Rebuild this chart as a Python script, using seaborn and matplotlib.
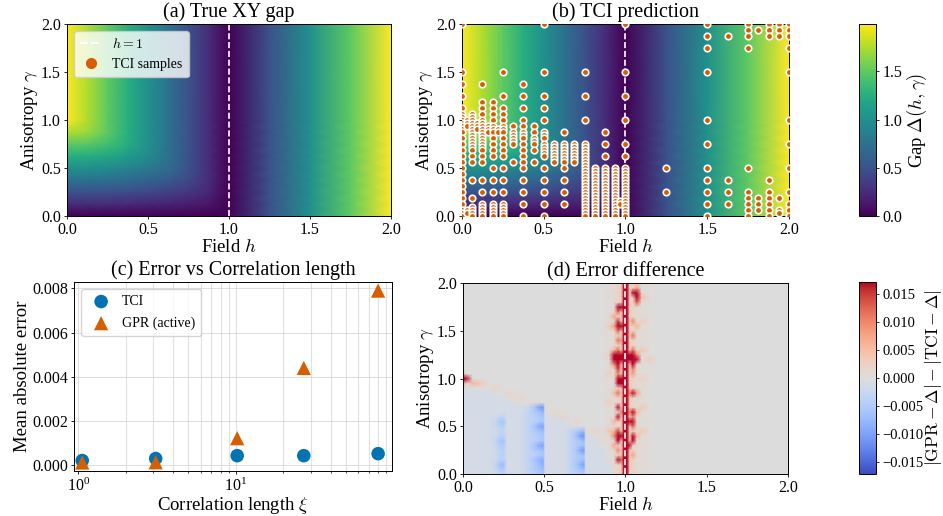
import numpy as np
import matplotlib
matplotlib.use("Agg")
import matplotlib.pyplot as plt
from matplotlib.lines import Line2D
import seaborn as sns

# ---------------- data ----------------
# gap field Delta(h, gamma) on a coarse node grid (rendered with gouraud shading)
gap_h = [0.0, 0.125, 0.25, 0.375, 0.5, 0.625, 0.75, 0.875, 1.0, 1.25, 1.5, 1.75, 2.0]
gap_g = [0.0, 0.125, 0.25, 0.375, 0.5, 0.625, 0.75, 0.875, 1.0, 2.0]
gap_right = [0.5, 1.0, 1.5, 2.0]
gap_rows = [
    [0.0, 0.0, 0.0, 0.0, 0.0, 0.0, 0.0, 0.0, 0.0],
    [0.25, 0.248, 0.242, 0.231, 0.216, 0.194, 0.164, 0.118, 0.0],
    [0.5, 0.496, 0.483, 0.461, 0.428, 0.382, 0.316, 0.214, 0.0],
    [0.75, 0.743, 0.722, 0.686, 0.632, 0.554, 0.441, 0.25, 0.0],
    [1.0, 0.99, 0.957, 0.901, 0.816, 0.692, 0.5, 0.25, 0.0],
    [1.25, 1.234, 1.184, 1.096, 0.96, 0.75, 0.5, 0.25, 0.0],
    [1.5, 1.473, 1.389, 1.236, 1.0, 0.75, 0.5, 0.25, 0.0],
    [1.75, 1.691, 1.5, 1.25, 1.0, 0.75, 0.5, 0.25, 0.0],
    [2.0, 1.75, 1.5, 1.25, 1.0, 0.75, 0.5, 0.25, 0.0],
    [2.0, 1.75, 1.5, 1.25, 1.0, 0.75, 0.5, 0.25, 0.0],
]

# TCI sample locations: one gamma list per h column
tci_cols_h = [0.0, 0.03125, 0.0625, 0.09375, 0.125, 0.15625, 0.1875, 0.21875, 0.25,
              0.3125, 0.375, 0.4375, 0.5, 0.5625, 0.625, 0.6875, 0.75, 0.8125, 0.875,
              0.9375, 0.96875, 1.0, 1.25, 1.5, 1.625, 1.75, 1.8125, 1.875, 1.9375, 2.0]
tci_cols_g = [
    [2.0, 1.5, 1.375, 1.25, 1.125, 1.0625, 1.03, 1.0, 0.97, 0.94, 0.906, 0.875, 0.8125, 0.75,
     0.6875, 0.625, 0.5625, 0.5, 0.4375, 0.375, 0.3125, 0.25, 0.1875, 0.125, 0.0625, 0.03, 0.0],
    [1.0, 0.97, 0.94, 0.06, 0.03],
    [1.0625, 1.03, 1.0, 0.97, 0.94, 0.91, 0.875, 0.84, 0.8125, 0.78, 0.75, 0.72, 0.6875, 0.625,
     0.5625, 0.375, 0.1875, 0.094, 0.0625, 0.03, 0.0],
    [0.97, 0.94, 0.91],
    [1.375, 1.1875, 1.125, 1.0625, 1.0, 0.97, 0.94, 0.91, 0.875, 0.84, 0.8125, 0.78, 0.75, 0.72,
     0.6875, 0.625, 0.5625, 0.375, 0.25, 0.125, 0.094, 0.0625, 0.03, 0.0],
    [0.94, 0.91, 0.875],
    [1.1875, 1.125, 1.0625, 1.0, 0.94, 0.91, 0.875, 0.8125, 0.75, 0.6875, 0.625, 0.5, 0.375,
     0.25, 0.125, 0.094, 0.0625, 0.03, 0.0],
    [0.91, 0.875],
    [1.5, 1.25, 1.125, 1.0625, 1.0, 0.9375, 0.91, 0.875, 0.8125, 0.75, 0.6875, 0.625, 0.5,
     0.375, 0.25, 0.125, 0.094, 0.0625, 0.03, 0.0],
    [0.9375, 0.875, 0.84, 0.8125, 0.78, 0.75, 0.5625],
    [1.375, 1.25, 1.125, 1.0, 0.9375, 0.875, 0.84, 0.8125, 0.75, 0.6875, 0.625, 0.5625, 0.5,
     0.375, 0.25, 0.125, 0.0],
    [0.9375, 0.875, 0.8125, 0.78, 0.75, 0.6875, 0.5625],
    [2.0, 1.5, 1.25, 1.125, 1.0, 0.875, 0.84, 0.8125, 0.75, 0.72, 0.6875, 0.656, 0.625, 0.5,
     0.375, 0.25, 0.125, 0.0],
    [0.75, 0.72, 0.6875, 0.656, 0.625, 0.594, 0.5625],
    [0.875, 0.75, 0.72, 0.6875, 0.656, 0.625, 0.594, 0.5625, 0.5, 0.375, 0.25, 0.125],
    [0.75, 0.72, 0.6875, 0.656, 0.625, 0.594, 0.5625],
    [1.5, 1.25, 1.0, 0.75, 0.72, 0.6875, 0.656, 0.625, 0.594, 0.5625, 0.53, 0.5, 0.47, 0.4375,
     0.406, 0.375, 0.344, 0.3125, 0.28, 0.25, 0.22, 0.1875, 0.156, 0.125, 0.094, 0.0625, 0.03, 0.0],
    [0.5, 0.47, 0.4375, 0.406, 0.375, 0.344, 0.3125, 0.28, 0.25, 0.22, 0.1875, 0.156, 0.125,
     0.094, 0.0625, 0.03, 0.0],
    [0.875, 0.75, 0.625, 0.5, 0.47, 0.4375, 0.406, 0.375, 0.344, 0.3125, 0.28, 0.25, 0.22,
     0.1875, 0.156, 0.125, 0.094, 0.0625, 0.03, 0.0],
    [0.5, 0.47, 0.4375, 0.406, 0.375, 0.344, 0.3125, 0.28, 0.25, 0.22, 0.1875, 0.156, 0.125,
     0.094, 0.0625, 0.03, 0.0],
    [0.156, 0.125],
    [2.0, 1.5, 1.25, 1.0, 0.75, 0.625, 0.5, 0.47, 0.4375, 0.406, 0.375, 0.344, 0.3125, 0.28,
     0.25, 0.22, 0.1875, 0.156, 0.125, 0.094, 0.0625, 0.03, 0.0],
    [0.5, 0.25],
    [2.0, 1.875, 1.75, 1.5, 1.0, 0.75, 0.5, 0.375, 0.25, 0.125, 0.0],
    [1.875, 0.375, 0.25, 0.125],
    [2.0, 1.9375, 1.875, 1.75, 0.5, 0.25, 0.1875, 0.125, 0.0625, 0.0],
    [1.9375, 0.1875, 0.125, 0.0625],
    [2.0, 1.9375, 1.875, 0.375, 0.25, 0.1875, 0.125, 0.0625, 0.0],
    [2.0, 1.9375, 1.875, 0.1875, 0.0625, 0.03],
    [2.0, 1.9375, 1.875, 1.75, 1.5, 1.0, 0.75, 0.5, 0.25, 0.125, 0.0625, 0.0],
]

# panel (c): error vs correlation length
xi = [1.06, 3.1, 10.2, 27.0, 80.0]
mae_tci = [0.00021, 0.00030, 0.00043, 0.00043, 0.00052]
mae_gpr = [0.00012, 0.00013, 0.00122, 0.00440, 0.00790]

# panel (d): error difference |GPR-D| - |TCI-D| on a non-uniform node grid
diff_h = [0.0, 0.02, 0.06, 0.12, 0.16, 0.2, 0.235, 0.25, 0.27, 0.35, 0.4, 0.44, 0.47, 0.495,
          0.505, 0.55, 0.62, 0.66, 0.7, 0.73, 0.745, 0.755, 0.8, 0.86, 0.9, 0.93, 0.955,
          0.975, 0.99, 1.0, 1.01, 1.025, 1.045, 1.07, 1.1, 1.15, 1.2, 2.0]
# faint pink halo around the h = 1 ridge
halo_h = [0.9, 0.93, 0.955, 0.975, 1.025, 1.045, 1.07, 1.1, 1.15]
halo_v = [0.0006, 0.001, 0.002, 0.003, 0.003, 0.002, 0.001, 0.0006, 0.0003]
# top of the faint blue region for each h node (gamma)
blue_top = [0.92, 0.92, 0.9, 0.88, 0.87, 0.85, 0.83, 0.82, 0.8, 0.75, 0.73, 0.72, 0.72, 0.72,
            0.65, 0.62, 0.58, 0.55, 0.5, 0.48, 0.48, 0.45, 0.4, 0.3, 0.15, 0.0, 0.0,
            0.0, 0.0, 0.0, 0.0, 0.0, 0.0, 0.0, 0.0, 0.0, 0.0, 0.0]
blue_faint = -0.0012
# stronger blue strips, values x1e-3 for gamma = 0.00, 0.05, ..., 0.70
strip_h = [0.2, 0.235, 0.25, 0.4, 0.44, 0.47, 0.495, 0.66, 0.7, 0.73, 0.745]
strip_vals = [
    [-2, -2.5, -3, -2, -2, -2, -2.5, -3, -2, -2, -2.5, -3, -1.5, -1, -1],
    [-4, -5, -7, -4, -4, -4, -5, -6, -4, -3, -4, -6, -3, -1, -1],
    [-4, -5, -7, -4, -4, -4, -5, -6, -4, -3, -4, -6, -3, -1, -1],
    [-3, -3, -3, -3, -3, -3, -3, -3, -3, -3, -3, -3, -3, -3, -2],
    [-4, -5, -5, -6, -4, -5, -6, -4, -4, -5, -6, -4, -4, -5, -6],
    [-5, -6, -7, -8, -5, -6, -9, -5, -5, -6, -9, -5, -5, -6, -10],
    [-6, -7, -9, -9, -6, -7, -10, -6, -6, -7, -10, -6, -6, -8, -11],
    [-3, -3, -3, -3, -3, -3, -3, -3, -3, -3, -1, 0, 0, 0, 0],
    [-4, -5, -6, -5, -5, -6, -5, -5, -7, -5, 0, 0, 0, 0, 0],
    [-5, -6, -9, -6, -6, -10, -6, -6, -11, -7, 0, 0, 0, 0, 0],
    [-5, -7, -10, -6, -6, -11, -6, -7, -11, -7, 0, 0, 0, 0, 0],
]
# red blobs (h, gamma, value)
red_h = [0.955, 0.975, 0.955, 0.955, 0.975, 0.955, 0.93, 0.955, 0.975,
         0.93, 0.955, 0.955, 0.955, 0.975, 0.975, 0.93,
         0.955, 0.975, 0.955, 0.975, 0.955, 0.955, 0.955, 0.975,
         0.955, 0.975, 0.955, 0.93, 0.955, 0.955, 0.975,
         0.93, 0.93, 0.93, 0.93, 0.93, 0.9, 0.9, 0.9, 0.9, 0.9,
         1.045, 1.07, 1.07, 1.07, 1.045, 1.045, 1.025, 1.045, 1.045, 1.025, 1.07, 1.045,
         1.045, 1.045, 1.07, 1.045, 1.045, 1.025, 1.045, 1.045, 1.045, 1.025, 1.025, 1.025,
         1.1, 1.1, 1.1, 1.1, 1.07, 1.15, 1.07, 1.07, 1.1,
         0.955, 0.955, 1.045, 1.045, 0.93, 1.07, 0.955, 0.93, 0.955, 0.955, 1.045, 1.045,
         1.07, 1.1,
         0.0, 0.02, 0.0, 0.0, 0.06, 0.12, 0.2, 0.27, 0.35, 0.44, 0.55, 0.62, 0.7, 0.8, 0.86]
red_g = [1.75, 1.75, 1.7, 1.55, 1.55, 1.6, 1.55, 1.4, 1.4,
         1.2, 1.2, 1.25, 1.15, 1.2, 1.25, 1.25,
         1.0, 0.95, 0.95, 1.0, 0.85, 0.7, 0.6, 0.65,
         0.4, 0.4, 0.35, 0.4, 0.15, 0.25, 0.15,
         1.65, 1.3, 0.55, 0.3, 0.85, 1.05, 0.75, 0.45, 1.55, 1.25,
         1.9, 1.85, 1.9, 1.8, 1.6, 1.45, 1.2, 1.2, 1.25, 1.25, 1.2, 1.15,
         1.05, 0.85, 0.85, 0.65, 0.55, 0.55, 0.4, 0.35, 0.2, 0.3, 0.85, 0.65,
         1.3, 0.7, 1.0, 0.45, 1.55, 1.2, 0.65, 0.4, 1.6,
         1.1, 1.3, 1.3, 1.1, 1.15, 1.25, 0.45, 0.45, 1.5, 1.05, 0.5, 0.6,
         1.95, 1.85,
         1.0, 1.0, 0.95, 1.05, 0.95, 0.95, 0.9, 0.85, 0.8, 0.75, 0.65, 0.6, 0.55, 0.45, 0.35]
red_v = [0.028, 0.020, 0.012, 0.034, 0.030, 0.016, 0.008, 0.012, 0.008,
         0.034, 0.042, 0.042, 0.026, 0.042, 0.042, 0.020,
         0.034, 0.030, 0.020, 0.020, 0.012, 0.020, 0.019, 0.010,
         0.042, 0.036, 0.027, 0.010, 0.022, 0.010, 0.013,
         0.007, 0.006, 0.006, 0.007, 0.005, 0.003, 0.003, 0.004, 0.003, 0.003,
         0.017, 0.020, 0.017, 0.013, 0.010, 0.012, 0.042, 0.042, 0.037, 0.034, 0.017, 0.020,
         0.008, 0.024, 0.008, 0.019, 0.025, 0.020, 0.030, 0.020, 0.008, 0.017, 0.010, 0.010,
         0.004, 0.004, 0.003, 0.004, 0.006, 0.003, 0.006, 0.006, 0.003,
         0.015, 0.012, 0.012, 0.010, 0.010, 0.010, 0.015, 0.006, 0.012, 0.010, 0.012, 0.010,
         0.008, 0.005,
         0.030, 0.018, 0.009, 0.007, 0.006, 0.003, 0.002, 0.002, 0.0015, 0.0015, 0.0015, 0.002,
         0.002, 0.002, 0.0015]
ridge_h = [0.99, 1.0, 1.01]
ridge_value = 0.03

# ---------------- build tables ----------------
gap_table = np.array([row + gap_right for row in gap_rows])

sample_h = np.concatenate([[h] * len(g) for h, g in zip(tci_cols_h, tci_cols_g)])
sample_g = np.concatenate(tci_cols_g)

diff_g = np.linspace(0, 2, 41)
diff = np.zeros((len(diff_g), len(diff_h)))
for h, v in zip(halo_h, halo_v):
    diff[:, diff_h.index(h)] = v
for j, top in enumerate(blue_top):
    diff[diff_g < top, j] = blue_faint
for h, vals in zip(strip_h, strip_vals):
    j = diff_h.index(h)
    diff[:len(vals), j] = np.array(vals) * 1e-3
for h, g, v in zip(red_h, red_g, red_v):
    diff[int(round(g / 0.05)), diff_h.index(h)] = v
for h in ridge_h:
    diff[:, diff_h.index(h)] = ridge_value

# ---------------- style ----------------
sns.set_theme(style="ticks")
plt.rcParams.update({
    "font.family": ["Liberation Serif", "DejaVu Serif"],
    "mathtext.fontset": "cm",
    "axes.edgecolor": "black",
    "axes.linewidth": 0.7,
    "axes.labelcolor": "black",
    "text.color": "black",
    "xtick.color": "black",
    "ytick.color": "black",
    "xtick.major.size": 2.5,
    "ytick.major.size": 2.5,
    "xtick.minor.size": 1.5,
    "ytick.minor.size": 1.5,
    "xtick.major.width": 0.6,
    "ytick.major.width": 0.6,
    "xtick.minor.width": 0.5,
    "ytick.minor.width": 0.5,
    "xtick.major.pad": 2.0,
    "ytick.major.pad": 2.0,
    "xtick.minor.pad": 2.0,
    "axes.labelpad": 0.5,
    "axes.titlepad": 5.0,
})

orange = "#d55e00"
blue = "#0173b2"
title_fs = 14.5
label_fs = 13.5
tick_fs = 11.5
legend_fs = 10

fig = plt.figure(figsize=(9.43, 5.16), dpi=100)
ax_a = fig.add_axes([0.0711, 0.5814, 0.3436, 0.3721])
ax_b = fig.add_axes([0.4899, 0.5814, 0.3468, 0.3721])
cax1 = fig.add_axes([0.9109, 0.5814, 0.018, 0.3721])
ax_c = fig.add_axes([0.0785, 0.087, 0.3372, 0.3665])
ax_d = fig.add_axes([0.491, 0.0814, 0.3446, 0.370])
cax2 = fig.add_axes([0.9109, 0.0814, 0.018, 0.372])

# (a) true gap
mesh = ax_a.pcolormesh(gap_h, gap_g, gap_table, shading="gouraud", cmap="viridis",
                       vmin=0, vmax=1.99, rasterized=True)
ax_a.axvline(1.0, color="white", ls="--", lw=1.2)
ax_a.set_title("(a) True XY gap", fontsize=title_fs)
handles = [Line2D([], [], color="white", ls="--", lw=1.5, label="$h=1$"),
           Line2D([], [], color=orange, marker="o", ls="", markersize=7, label="TCI samples")]
ax_a.legend(handles=handles, loc="upper left", fontsize=legend_fs, framealpha=0.8,
            handlelength=1.6, handletextpad=0.7, borderpad=0.45)

# (b) TCI prediction
ax_b.pcolormesh(gap_h, gap_g, gap_table, shading="gouraud", cmap="viridis",
                vmin=0, vmax=1.99, rasterized=True)
ax_b.axvline(1.0, color="white", ls="--", lw=1.2)
sns.scatterplot(x=sample_h, y=sample_g, ax=ax_b, color=orange, s=22,
                edgecolor="white", linewidth=1.2, zorder=3)
ax_b.set_title("(b) TCI prediction", fontsize=title_fs)

for ax in (ax_a, ax_b):
    ax.set_xlim(0, 2)
    ax.set_ylim(0, 2)
    ax.set_xlabel("Field $h$", fontsize=label_fs)
    ax.set_ylabel(r"Anisotropy $\gamma$", fontsize=label_fs)
    ax.set_xticks([0, 0.5, 1.0, 1.5, 2.0])
    ax.set_yticks([0, 0.5, 1.0, 1.5, 2.0])
    ax.tick_params(labelsize=tick_fs)

cb1 = fig.colorbar(mesh, cax=cax1)
cb1.set_ticks([0.0, 0.5, 1.0, 1.5])
cb1.set_label(r"Gap $\Delta(h,\gamma)$", fontsize=label_fs, labelpad=2)
cb1.ax.tick_params(labelsize=tick_fs)

# (c) error vs correlation length
sns.scatterplot(x=xi, y=mae_tci, ax=ax_c, color=blue, marker="o", s=95,
                edgecolor="none", label="TCI", zorder=3)
sns.scatterplot(x=xi, y=mae_gpr, ax=ax_c, color=orange, marker="^", s=105,
                edgecolor="none", label="GPR (active)", zorder=3)
ax_c.set_xscale("log")
ax_c.set_xlim(0.94, 98)
ax_c.grid(True, which="both", color="#cccccc", alpha=0.6, lw=0.8)
ax_c.set_yticks([0, 0.002, 0.004, 0.006, 0.008])
ax_c.set_yticklabels(["0.000", "0.002", "0.004", "0.006", "0.008"])
ax_c.set_xlabel(r"Correlation length $\xi$", fontsize=label_fs, labelpad=0.5)
ax_c.set_ylabel("Mean absolute error", fontsize=label_fs)
ax_c.set_title("(c) Error vs Correlation length", fontsize=title_fs)
ax_c.tick_params(labelsize=tick_fs)
ax_c.legend(loc="upper left", fontsize=legend_fs, framealpha=0.8,
            handletextpad=0.5, borderpad=0.45, labelspacing=0.6)

# (d) error difference
mesh_d = ax_d.pcolormesh(diff_h, diff_g, diff, shading="gouraud", cmap="coolwarm",
                         vmin=-0.0172, vmax=0.0172, rasterized=True)
ax_d.axvline(1.0, color="white", ls="--", lw=1.2)
ax_d.set_xlim(0, 2)
ax_d.set_ylim(0, 2)
ax_d.set_xticks([0, 0.5, 1.0, 1.5, 2.0])
ax_d.set_yticks([0, 0.5, 1.0, 1.5, 2.0])
ax_d.set_xlabel("Field $h$", fontsize=label_fs)
ax_d.set_ylabel(r"Anisotropy $\gamma$", fontsize=label_fs)
ax_d.set_title("(d) Error difference", fontsize=title_fs)
ax_d.tick_params(labelsize=tick_fs)

cb2 = fig.colorbar(mesh_d, cax=cax2)
cb2.set_ticks([-0.015, -0.01, -0.005, 0.0, 0.005, 0.01, 0.015])
cb2.set_ticklabels(["\u22120.015", "\u22120.010", "\u22120.005", "0.000", "0.005", "0.010", "0.015"])
cb2.set_label(r"$|\mathrm{GPR}-\Delta| - |\mathrm{TCI}-\Delta|$", fontsize=12.5, labelpad=0)
cb2.ax.tick_params(labelsize=10.5)

fig.savefig("out.png", dpi=100)
